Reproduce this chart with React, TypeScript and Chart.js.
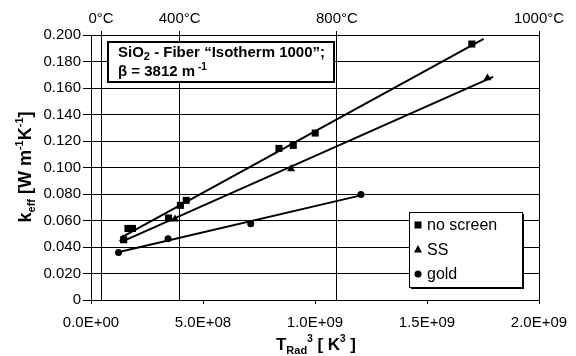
import React, { useEffect, useRef } from 'react';
import { Chart, registerables } from 'chart.js';

Chart.register(...registerables);

// ---- data ----
const noScreenX = [1.46e8, 1.65e8, 1.85e8, 3.46e8, 3.99e8, 4.25e8, 8.39e8, 9.03e8, 1.001e9, 1.70e9];
const noScreenY = [0.0455, 0.054, 0.054, 0.0619, 0.0714, 0.0752, 0.1144, 0.1167, 0.126, 0.1932];
const ssX = [1.42e8, 3.75e8, 8.93e8, 1.77e9];
const ssY = [0.046, 0.061, 0.099, 0.1675];
const goldX = [1.23e8, 3.44e8, 7.13e8, 1.205e9];
const goldY = [0.0359, 0.0463, 0.0576, 0.0797];
// x-extent of each fitted line as drawn in the reference
const fitStartX = [1.38e8, 1.31e8, 1.2e8];
const fitEndX = [1.753e9, 1.795e9, 1.205e9];
const seriesNames = ['no screen', 'SS', 'gold'];
const xTickValues = [0, 5e8, 1e9, 1.5e9, 2e9];
const yTickValues = [0, 0.02, 0.04, 0.06, 0.08, 0.1, 0.12, 0.14, 0.16, 0.18, 0.2];
const tempTickX = [4.5e7, 3.96e8, 1.098e9, 2.0e9];
const tempTickLabels = ['0°C', '400°C', '800°C', '1000°C'];

const FONT = '"Liberation Sans", Arial, sans-serif';

function fit(xs: number[], ys: number[]) {
  const n = xs.length;
  const mx = xs.reduce((a, b) => a + b, 0) / n;
  const my = ys.reduce((a, b) => a + b, 0) / n;
  let sxy = 0, sxx = 0;
  for (let i = 0; i < n; i++) {
    sxy += (xs[i] - mx) * (ys[i] - my);
    sxx += (xs[i] - mx) * (xs[i] - mx);
  }
  const m = sxy / sxx;
  return { m, b: my - m * mx };
}

function fmtExp(v: number) {
  if (v === 0) return '0.0E+00';
  const e = Math.floor(Math.log10(Math.abs(v)) + 1e-9);
  const mant = v / Math.pow(10, e);
  return mant.toFixed(1) + 'E+' + String(e).padStart(2, '0');
}

type Part = { t: string; size: number; dy: number; bold?: boolean };

function measureParts(ctx: CanvasRenderingContext2D, parts: Part[]) {
  let w = 0;
  for (const p of parts) {
    ctx.font = `${p.bold === false ? '' : 'bold '}${p.size}px ${FONT}`;
    w += ctx.measureText(p.t).width;
  }
  return w;
}

function drawParts(ctx: CanvasRenderingContext2D, parts: Part[], x: number, y: number) {
  let cx = x;
  ctx.textBaseline = 'alphabetic';
  ctx.textAlign = 'left';
  for (const p of parts) {
    ctx.font = `${p.bold === false ? '' : 'bold '}${p.size}px ${FONT}`;
    ctx.fillText(p.t, cx, y + p.dy);
    cx += ctx.measureText(p.t).width;
  }
}

function drawMarker(ctx: CanvasRenderingContext2D, style: string, x: number, y: number) {
  ctx.fillStyle = '#000';
  ctx.beginPath();
  if (style === 'rect') {
    ctx.rect(x - 3.5, y - 3.5, 7, 7);
  } else if (style === 'triangle') {
    ctx.moveTo(x, y - 4.5);
    ctx.lineTo(x + 4, y + 3);
    ctx.lineTo(x - 4, y + 3);
    ctx.closePath();
  } else {
    ctx.arc(x, y, 3.5, 0, Math.PI * 2);
  }
  ctx.fill();
}

const decorPlugin = {
  id: 'decor',
  afterDraw(chart: any) {
    const ctx: CanvasRenderingContext2D = chart.ctx;
    ctx.save();

    // annotation box
    ctx.fillStyle = '#fff';
    ctx.fillRect(108, 42, 226, 40);
    ctx.strokeStyle = '#000';
    ctx.lineWidth = 2;
    ctx.strokeRect(108, 42, 226, 40);
    ctx.fillStyle = '#000';
    drawParts(ctx, [
      { t: 'SiO', size: 15, dy: 0 },
      { t: '2', size: 11, dy: 3 },
      { t: ' - Fiber \u201CIsotherm 1000\u201D;', size: 15, dy: 0 },
    ], 118, 57);
    drawParts(ctx, [
      { t: '\u03B2 = 3812 m', size: 15, dy: 0 },
      { t: ' -1', size: 10, dy: -6 },
    ], 118, 76);

    // legend box with shadow
    const lx = 409, ly = 212, lw = 113, lh = 75;
    ctx.fillStyle = '#000';
    ctx.fillRect(lx + 2, ly + 2, lw, lh);
    ctx.fillStyle = '#fff';
    ctx.fillRect(lx, ly, lw, lh);
    ctx.strokeStyle = '#000';
    ctx.lineWidth = 1;
    ctx.strokeRect(lx + 0.5, ly + 0.5, lw, lh);
    const rowsY = [225, 249.5, 274];
    const styles = ['rect', 'triangle', 'circle'];
    seriesNames.forEach((name, i) => {
      drawMarker(ctx, styles[i], lx + 9, rowsY[i]);
      ctx.fillStyle = '#000';
      ctx.font = `16px ${FONT}`;
      ctx.textAlign = 'left';
      ctx.textBaseline = 'middle';
      ctx.fillText(name, lx + 18, rowsY[i] + 1);
    });

    // x-axis title
    const xt: Part[] = [
      { t: 'T', size: 17, dy: 0 },
      { t: 'Rad', size: 11, dy: 4 },
      { t: '3', size: 10, dy: -8 },
      { t: ' [ K', size: 17, dy: 0 },
      { t: '3', size: 10, dy: -8 },
      { t: ' ]', size: 17, dy: 0 },
    ];
    ctx.fillStyle = '#000';
    const xw = measureParts(ctx, xt);
    drawParts(ctx, xt, 316 - xw / 2, 350);

    // y-axis title (rotated)
    const yt: Part[] = [
      { t: 'k', size: 18, dy: 0 },
      { t: 'eff', size: 11, dy: 4 },
      { t: ' [W m', size: 18, dy: 0 },
      { t: '-1', size: 11, dy: -8 },
      { t: 'K', size: 18, dy: 0 },
      { t: '-1', size: 11, dy: -8 },
      { t: ']', size: 18, dy: 0 },
    ];
    const yw = measureParts(ctx, yt);
    ctx.save();
    ctx.translate(31, 167);
    ctx.rotate(-Math.PI / 2);
    drawParts(ctx, yt, -yw / 2, 0);
    ctx.restore();

    ctx.restore();
  },
};

export default function App() {
  const ref = useRef<HTMLCanvasElement | null>(null);

  useEffect(() => {
    if (!ref.current) return;
    const series = [
      { xs: noScreenX, ys: noScreenY, style: 'rect', r: 5 },
      { xs: ssX, ys: ssY, style: 'triangle', r: 4.6 },
      { xs: goldX, ys: goldY, style: 'circle', r: 3.5 },
    ];
    const datasets: any[] = [];
    series.forEach((s, i) => {
      const f = fit(s.xs, s.ys);
      datasets.push({
        label: seriesNames[i] + ' fit',
        data: [fitStartX[i], fitEndX[i]].map((x) => ({ x, y: f.m * x + f.b })),
        showLine: true,
        borderColor: '#000',
        borderWidth: 2,
        pointRadius: 0,
        fill: false,
      });
    });
    series.forEach((s, i) => {
      datasets.push({
        label: seriesNames[i],
        data: s.xs.map((x, j) => ({ x, y: s.ys[j] })),
        showLine: false,
        pointStyle: s.style,
        pointRadius: s.r,
        backgroundColor: '#000',
        borderColor: '#000',
        borderWidth: 0,
      });
    });

    const tickFont = { family: FONT, size: 15 };
    const chart = new Chart(ref.current, {
      type: 'scatter',
      data: { datasets },
      plugins: [decorPlugin],
      options: {
        responsive: false,
        animation: false,
        devicePixelRatio: 1,
        layout: { padding: { left: 0, right: 37, top: 0, bottom: 0 } },
        plugins: { legend: { display: false }, tooltip: { enabled: false } },
        scales: {
          x: {
            type: 'linear',
            position: 'bottom',
            min: 0,
            max: 2e9,
            afterBuildTicks: (s: any) => { s.ticks = xTickValues.map((v) => ({ value: v })); },
            afterFit: (s: any) => { s.height = 56; s.paddingLeft = 0; s.paddingRight = 0; },
            ticks: { callback: (v: any) => fmtExp(Number(v)), font: tickFont, color: '#000', padding: 10, maxRotation: 0, autoSkip: false },
            grid: { drawOnChartArea: false, drawTicks: true, tickLength: 4, color: '#000' },
            border: { color: '#000', width: 1 },
          },
          x2: {
            type: 'linear',
            position: 'top',
            min: 0,
            max: 2e9,
            afterBuildTicks: (s: any) => { s.ticks = tempTickX.map((v) => ({ value: v })); },
            afterFit: (s: any) => { s.height = 35; s.paddingLeft = 0; s.paddingRight = 0; },
            ticks: {
              callback: (v: any) => tempTickLabels[tempTickX.indexOf(Number(v))] ?? '',
              font: tickFont, color: '#000', padding: 3, maxRotation: 0, autoSkip: false,
            },
            grid: { drawOnChartArea: true, drawTicks: true, tickLength: 4, color: '#000' },
            border: { color: '#000', width: 1 },
          },
          y: {
            type: 'linear',
            position: 'left',
            min: 0,
            max: 0.2,
            afterBuildTicks: (s: any) => { s.ticks = yTickValues.map((v) => ({ value: v })); },
            afterFit: (s: any) => { s.width = 91; s.paddingTop = 0; s.paddingBottom = 0; },
            ticks: {
              callback: (v: any) => (Number(v) === 0 ? '0' : Number(v).toFixed(3)),
              font: tickFont, color: '#000', padding: 2, autoSkip: false,
            },
            grid: { drawTicks: true, tickLength: 8, color: '#000' },
            border: { color: '#000', width: 1 },
          },
        },
      } as any,
    });
    return () => chart.destroy();
  }, []);

  return (
    <div style={{ position: 'fixed', left: 0, top: 0, width: 576, height: 356, background: '#fff' }}>
      <canvas ref={ref} width={576} height={356} style={{ display: 'block' }} />
    </div>
  );
}
